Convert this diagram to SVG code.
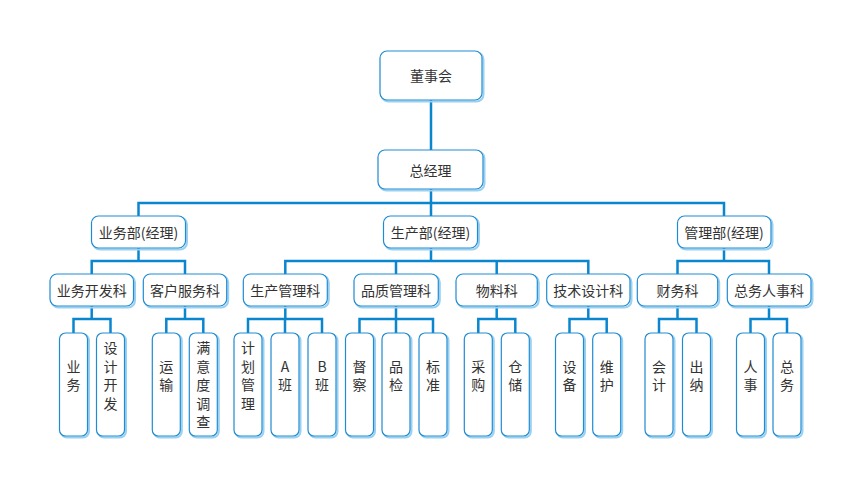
<svg xmlns="http://www.w3.org/2000/svg" width="861" height="486" viewBox="0 0 861 486">
<style>
.bx{fill:#fff;stroke:#1f8bd3;stroke-width:1.2}
.sh{fill:none;stroke:#9ad0f0;stroke-width:2}
.t{font-family:"Noto Sans CJK SC","Microsoft YaHei",sans-serif;font-size:14px;fill:#333;text-anchor:middle;dominant-baseline:central}
.v{font-family:"Noto Sans CJK SC","Microsoft YaHei",sans-serif;font-size:14px;fill:#333;text-anchor:start;writing-mode:vertical-rl;text-orientation:upright;letter-spacing:4.4px}
.c{fill:none;stroke:#0a86cf;stroke-width:2.5}
</style>
<rect width="861" height="486" fill="#fff"/>
<g id="connectors" class="c">
<path d="M431,100V150"/>
<path d="M431,189V203M138.5,216V203H724V216M431,203V216"/>
<path d="M138.5,248V261M91.7,274V261H185V274"/>
<path d="M431,248V261M285.3,274V261H588.3V274M396,261V274M496.7,261V274"/>
<path d="M724,248V261M677.5,274V261H769V274"/>
<path d="M91.7,306V319M73.5,333V319H110.5V333"/>
<path d="M185,306V319M166.3,333V319H203.3V333"/>
<path d="M285.3,306V319M248,333V319H322V333M285,319V333"/>
<path d="M396,306V319M359.5,333V319H433V333M396,319V333"/>
<path d="M496.7,306V319M478.3,333V319H515.3V333"/>
<path d="M588.3,306V319M569.5,333V319H606.7V333"/>
<path d="M677.5,306V319M659,333V319H696.5V333"/>
<path d="M769,306V319M750.5,333V319H787V333"/>
</g>
<g id="n-board"><rect class="sh" x="381.5" y="52.5" width="102" height="49" rx="7"/><rect class="bx" x="380" y="51" width="102" height="49" rx="7"/><text class="t" x="431" y="75">董事会</text></g>
<g id="n-gm"><rect class="sh" x="379.5" y="151.5" width="105" height="39" rx="7"/><rect class="bx" x="378" y="150" width="105" height="39" rx="7"/><text class="t" x="430.5" y="170">总经理</text></g>
<g id="n-biz"><rect class="sh" x="93" y="217.5" width="94" height="32" rx="7"/><rect class="bx" x="91.5" y="216" width="94" height="32" rx="7"/><text class="t" x="138.5" y="232">业务部(经理)</text></g>
<g id="n-prod"><rect class="sh" x="385" y="217.5" width="94" height="32" rx="7"/><rect class="bx" x="383.5" y="216" width="94" height="32" rx="7"/><text class="t" x="430.5" y="232">生产部(经理)</text></g>
<g id="n-mgmt"><rect class="sh" x="679" y="217.5" width="93.5" height="32" rx="7"/><rect class="bx" x="677.5" y="216" width="93.5" height="32" rx="7"/><text class="t" x="724" y="232">管理部(经理)</text></g>
<g id="n-bizdev"><rect class="sh" x="51.5" y="275.5" width="83.5" height="32" rx="7"/><rect class="bx" x="50" y="274" width="83.5" height="32" rx="7"/><text class="t" x="91.7" y="290">业务开发科</text></g>
<g id="n-cs"><rect class="sh" x="144.8" y="275.5" width="83.4" height="32" rx="7"/><rect class="bx" x="143.3" y="274" width="83.4" height="32" rx="7"/><text class="t" x="185" y="290">客户服务科</text></g>
<g id="n-pm"><rect class="sh" x="244.8" y="275.5" width="84" height="32" rx="7"/><rect class="bx" x="243.3" y="274" width="84" height="32" rx="7"/><text class="t" x="285.3" y="290">生产管理科</text></g>
<g id="n-qm"><rect class="sh" x="355.5" y="275.5" width="84.3" height="32" rx="7"/><rect class="bx" x="354" y="274" width="84.3" height="32" rx="7"/><text class="t" x="396" y="290">品质管理科</text></g>
<g id="n-mat"><rect class="sh" x="457.5" y="275.5" width="81.3" height="32" rx="7"/><rect class="bx" x="456" y="274" width="81.3" height="32" rx="7"/><text class="t" x="496.7" y="290">物料科</text></g>
<g id="n-tech"><rect class="sh" x="548.2" y="275.5" width="83.3" height="32" rx="7"/><rect class="bx" x="546.7" y="274" width="83.3" height="32" rx="7"/><text class="t" x="588.3" y="290">技术设计科</text></g>
<g id="n-fin"><rect class="sh" x="638.8" y="275.5" width="80.4" height="32" rx="7"/><rect class="bx" x="637.3" y="274" width="80.4" height="32" rx="7"/><text class="t" x="677.5" y="290">财务科</text></g>
<g id="n-hr"><rect class="sh" x="728.8" y="275.5" width="83.7" height="32" rx="7"/><rect class="bx" x="727.3" y="274" width="83.7" height="32" rx="7"/><text class="t" x="769" y="290">总务人事科</text></g>
<g id="l-yw"><rect class="sh" x="61" y="334.5" width="28" height="103" rx="6"/><rect class="bx" x="59.5" y="333" width="28" height="103" rx="6"/><text class="v" x="73.5" y="359.7">业务</text></g>
<g id="l-sjkf"><rect class="sh" x="98" y="334.5" width="28" height="103" rx="6"/><rect class="bx" x="96.5" y="333" width="28" height="103" rx="6"/><text class="v" x="110.5" y="341">设计开发</text></g>
<g id="l-ys"><rect class="sh" x="153.8" y="334.5" width="28" height="103" rx="6"/><rect class="bx" x="152.3" y="333" width="28" height="103" rx="6"/><text class="v" x="166.3" y="359.7">运输</text></g>
<g id="l-myd"><rect class="sh" x="190.8" y="334.5" width="28" height="103" rx="6"/><rect class="bx" x="189.3" y="333" width="28" height="103" rx="6"/><text class="v" x="203.3" y="341">满意度调查</text></g>
<g id="l-jhgl"><rect class="sh" x="235.5" y="334.5" width="28" height="103" rx="6"/><rect class="bx" x="234" y="333" width="28" height="103" rx="6"/><text class="v" x="248" y="341">计划管理</text></g>
<g id="l-a"><rect class="sh" x="272.5" y="334.5" width="28" height="103" rx="6"/><rect class="bx" x="271" y="333" width="28" height="103" rx="6"/><text class="v" x="285" y="359.7">A班</text></g>
<g id="l-b"><rect class="sh" x="309.5" y="334.5" width="28" height="103" rx="6"/><rect class="bx" x="308" y="333" width="28" height="103" rx="6"/><text class="v" x="322" y="359.7">B班</text></g>
<g id="l-dc"><rect class="sh" x="347" y="334.5" width="28" height="103" rx="6"/><rect class="bx" x="345.5" y="333" width="28" height="103" rx="6"/><text class="v" x="359.5" y="359.7">督察</text></g>
<g id="l-pj"><rect class="sh" x="383.5" y="334.5" width="28" height="103" rx="6"/><rect class="bx" x="382" y="333" width="28" height="103" rx="6"/><text class="v" x="396" y="359.7">品检</text></g>
<g id="l-bz"><rect class="sh" x="420.5" y="334.5" width="28" height="103" rx="6"/><rect class="bx" x="419" y="333" width="28" height="103" rx="6"/><text class="v" x="433" y="359.7">标准</text></g>
<g id="l-cg"><rect class="sh" x="465.8" y="334.5" width="28" height="103" rx="6"/><rect class="bx" x="464.3" y="333" width="28" height="103" rx="6"/><text class="v" x="478.3" y="359.7">采购</text></g>
<g id="l-cc"><rect class="sh" x="502.8" y="334.5" width="28" height="103" rx="6"/><rect class="bx" x="501.3" y="333" width="28" height="103" rx="6"/><text class="v" x="515.3" y="359.7">仓储</text></g>
<g id="l-sb"><rect class="sh" x="557" y="334.5" width="28" height="103" rx="6"/><rect class="bx" x="555.5" y="333" width="28" height="103" rx="6"/><text class="v" x="569.5" y="359.7">设备</text></g>
<g id="l-wh"><rect class="sh" x="594.2" y="334.5" width="28" height="103" rx="6"/><rect class="bx" x="592.7" y="333" width="28" height="103" rx="6"/><text class="v" x="606.7" y="359.7">维护</text></g>
<g id="l-kj"><rect class="sh" x="646.5" y="334.5" width="28" height="103" rx="6"/><rect class="bx" x="645" y="333" width="28" height="103" rx="6"/><text class="v" x="659" y="359.7">会计</text></g>
<g id="l-cn"><rect class="sh" x="684" y="334.5" width="28" height="103" rx="6"/><rect class="bx" x="682.5" y="333" width="28" height="103" rx="6"/><text class="v" x="696.5" y="359.7">出纳</text></g>
<g id="l-rs"><rect class="sh" x="738" y="334.5" width="28" height="103" rx="6"/><rect class="bx" x="736.5" y="333" width="28" height="103" rx="6"/><text class="v" x="750.5" y="359.7">人事</text></g>
<g id="l-zw"><rect class="sh" x="774.5" y="334.5" width="28" height="103" rx="6"/><rect class="bx" x="773" y="333" width="28" height="103" rx="6"/><text class="v" x="787" y="359.7">总务</text></g>
</svg>
